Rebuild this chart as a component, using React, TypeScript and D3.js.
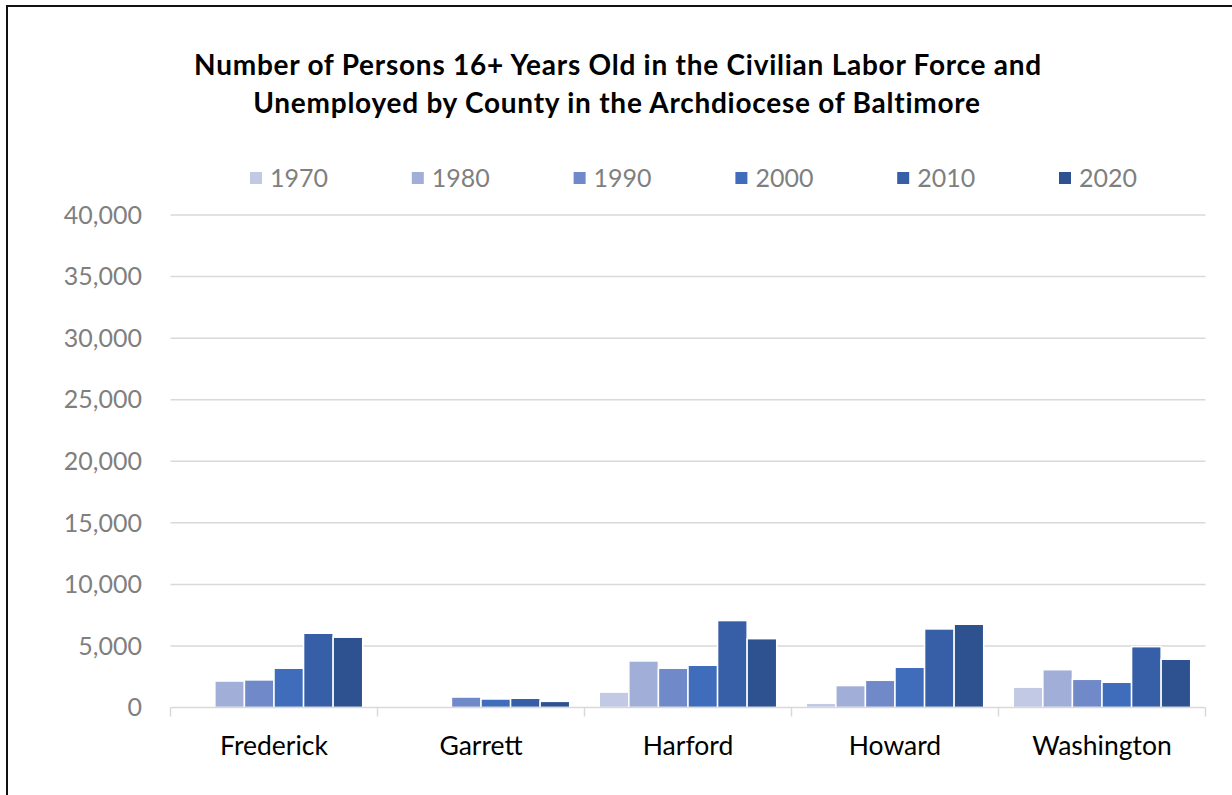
import React from "react";
import * as d3 from "d3";

const counties = ["Frederick", "Garrett", "Harford", "Howard", "Washington"];
const years = ["1970", "1980", "1990", "2000", "2010", "2020"];
const v1970 = [0, 0, 1250, 350, 1650];
const v1980 = [2150, 0, 3780, 1780, 3070];
const v1990 = [2240, 850, 3190, 2210, 2290];
const v2000 = [3190, 690, 3430, 3270, 2050];
const v2010 = [6030, 750, 7060, 6380, 4940];
const v2020 = [5710, 500, 5590, 6760, 3920];
const yTicks = [0, 5000, 10000, 15000, 20000, 25000, 30000, 35000, 40000];
const colors = ["#c1c9e4", "#a0aed8", "#6f89c9", "#3f6dbb", "#375fa7", "#2e5290"];

const seriesValues = [v1970, v1980, v1990, v2000, v2010, v2020];

const W = 1232;
const H = 795;
const left = 170.5;
const right = 1205.5;
const top = 215;
const bottom = 707.5;
const FONT = "Lato, 'Open Sans', sans-serif";

export default function App() {
  const x0 = d3.scaleBand<string>().domain(counties).range([left, right]).paddingInner(0).paddingOuter(0);
  const x1 = d3
    .scaleBand<string>()
    .domain(years)
    .range([0, x0.bandwidth()])
    .paddingInner(0)
    .paddingOuter(0.5);
  const y = d3.scaleLinear().domain([0, 40000]).range([bottom, top]);
  const fmt = d3.format(",");

  const legendX = (i: number) => 250 + i * 161.8;

  return (
    <svg
      width={W}
      height={H}
      style={{ position: "absolute", left: 0, top: 0, background: "#fff" }}
      fontFamily={FONT}
    >
      <rect x={0} y={0} width={W} height={H} fill="#fff" />
      <rect x={7} y={6} width={W + 20} height={H + 20} fill="none" stroke="#111" strokeWidth={2} />
      <text x={618} y={75} textAnchor="middle" fontWeight="bold" fontSize={28} letterSpacing={0.75} fill="#000">
        Number of Persons 16+ Years Old in the Civilian Labor Force and
      </text>
      <text x={617} y={113} textAnchor="middle" fontWeight="bold" fontSize={28} letterSpacing={0.75} fill="#000">
        Unemployed by County in the Archdiocese of Baltimore
      </text>

      {years.map((yr, i) => (
        <g key={yr}>
          <rect x={legendX(i)} y={172} width={12} height={12} fill={colors[i]} />
          <text x={legendX(i) + 20} y={187} fontSize={25} fill="#7f7f7f">
            {yr}
          </text>
        </g>
      ))}

      {yTicks.map((t) => (
        <g key={t}>
          {t > 0 && (
            <line x1={left} x2={right} y1={y(t)} y2={y(t)} stroke="#d9d9d9" strokeWidth={1.5} />
          )}
          <text x={142} y={y(t)} dy="0.35em" textAnchor="end" fontSize={25} fill="#7f7f7f">
            {fmt(t)}
          </text>
        </g>
      ))}

      {counties.map((c, ci) => (
        <g key={c} transform={`translate(${x0(c)},0)`}>
          {years.map((yr, si) => {
            const v = seriesValues[si][ci];
            if (!v) return null;
            return (
              <rect
                key={yr}
                x={x1(yr)!}
                y={y(v)}
                width={x1.bandwidth()}
                height={y(0) - y(v)}
                fill={colors[si]}
                stroke="#fff"
                strokeWidth={1.5}
              />
            );
          })}
        </g>
      ))}

      <line x1={left} x2={right} y1={bottom} y2={bottom} stroke="#d9d9d9" strokeWidth={1.5} />
      {[...counties.map((c) => x0(c)!), right].map((xv, i) => (
        <line key={i} x1={xv} x2={xv} y1={bottom} y2={bottom + 9} stroke="#d9d9d9" strokeWidth={1.5} />
      ))}
      {counties.map((c) => (
        <text key={c} x={x0(c)! + x0.bandwidth() / 2} y={755} textAnchor="middle" fontSize={26.5} fill="#000">
          {c}
        </text>
      ))}
    </svg>
  );
}
